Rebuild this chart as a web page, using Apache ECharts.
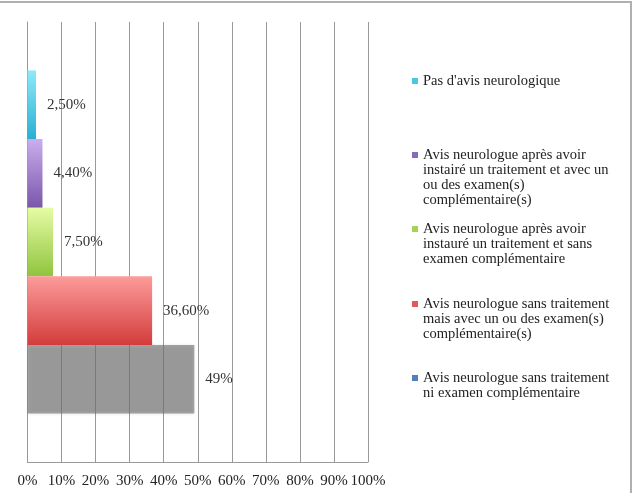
<!DOCTYPE html>
<html>
<head>
<meta charset="utf-8">
<script src="https://cdn.jsdelivr.net/npm/echarts@6/dist/echarts.min.js"></script>
<style>
  html, body { margin: 0; padding: 0; background: #fff; }
  #chart { width: 640px; height: 493px; }
</style>
</head>
<body>
<div id="chart"></div>
<script>
// series listed from the top bar to the bottom bar
const seriesNames = [
  "Pas d'avis neurologique",
  'Avis neurologue après avoir instairé un traitement et avec un ou des examen(s) complémentaire(s)',
  'Avis neurologue après avoir instauré un traitement et sans examen complémentaire',
  'Avis neurologue sans traitement mais avec un ou des examen(s) complémentaire(s)',
  'Avis neurologue sans traitement ni examen complémentaire'
]
const values = [2.5, 4.4, 7.5, 36.6, 49]
const valueLabels = ['2,50%', '4,40%', '7,50%', '36,60%', '49%']
const xTicks = [0, 10, 20, 30, 40, 50, 60, 70, 80, 90, 100]
const legendText = [
  "Pas d'avis neurologique",
  'Avis neurologue après avoir\ninstairé un traitement et avec un\nou des examen(s)\ncomplémentaire(s)',
  'Avis neurologue après avoir\ninstauré un traitement et sans\nexamen complémentaire',
  'Avis neurologue sans traitement\nmais avec un ou des examen(s)\ncomplémentaire(s)',
  'Avis neurologue sans traitement\nni examen complémentaire'
]

const font = '"Liberation Serif", serif'
const grad = (a, b) => ({ type: 'linear', x: 0, y: 0, x2: 0, y2: 1, colorStops: [{ offset: 0, color: a }, { offset: 1, color: b }] })
const barColors = [
  grad('#90e9f9', '#27b0d2'),
  grad('#caaeee', '#7a56aa'),
  grad('#e6fca4', '#8fc43e'),
  grad('#fc9c9a', '#d23c3c'),
  'rgba(118,118,118,0.65)'
]
const legendColors = ['#4cc7e2', '#8a6bb8', '#a5d257', '#e05a57', '#4f81bd']
const legendIconY = [81, 155, 229, 304, 378]
const lineH = 15

const chart = echarts.init(document.getElementById('chart'))

// yAxis inverse so the first series sits on top
const series = values.map((v, i) => ({
  name: seriesNames[i],
  type: 'bar',
  data: [v],
  barGap: '0%',
  barCategoryGap: '22%',
  itemStyle: i === 4
    ? { color: barColors[i], shadowBlur: 3, shadowColor: 'rgba(0,0,0,0.25)' }
    : { color: barColors[i] },
  label: {
    show: true,
    position: 'right',
    distance: 11,
    formatter: () => valueLabels[i],
    fontFamily: font,
    fontSize: 15,
    color: '#333'
  },
  z: i === 4 ? 1 : 2
}))

// blank lines before the text keep the icon on the first line
const legends = legendText.map((txt, i) => {
  const n = txt.split('\n').length
  const h = (2 * n - 1) * lineH
  return {
    orient: 'vertical',
    left: 412,
    top: legendIconY[i] - h / 2,
    padding: 0,
    icon: 'rect',
    itemWidth: 6,
    itemHeight: 6,
    selectedMode: false,
    data: [{ name: seriesNames[i], itemStyle: { color: legendColors[i] } }],
    formatter: () => '\n'.repeat(n - 1) + txt,
    textStyle: {
      fontFamily: font,
      fontSize: 14.5,
      lineHeight: lineH,
      color: '#222'
    }
  }
})

const option = {
  animation: false,
  grid: { left: 27.5, right: 272, top: 22, bottom: 31, containLabel: false },
  legend: legends,
  xAxis: {
    type: 'value',
    min: xTicks[0],
    max: xTicks[xTicks.length - 1],
    interval: 10,
    axisLine: { show: true, lineStyle: { color: '#999', width: 1 } },
    axisTick: { show: false },
    splitLine: { show: true, lineStyle: { color: '#999', width: 1 } },
    axisLabel: {
      formatter: v => v + '%',
      fontFamily: font,
      fontSize: 15,
      color: '#222',
      margin: 12
    }
  },
  yAxis: {
    type: 'category',
    inverse: true,
    data: [''],
    axisLine: { show: true, lineStyle: { color: '#999', width: 1 } },
    axisTick: { show: false },
    axisLabel: { show: false }
  },
  series: series,
  graphic: [
    { type: 'line', shape: { x1: 0, y1: 2, x2: 631, y2: 2 }, style: { stroke: '#b0b0b0', lineWidth: 2 } },
    { type: 'line', shape: { x1: 631, y1: 1, x2: 631, y2: 493 }, style: { stroke: '#b0b0b0', lineWidth: 2 } }
  ]
}

chart.setOption(option)
</script>
</body>
</html>
